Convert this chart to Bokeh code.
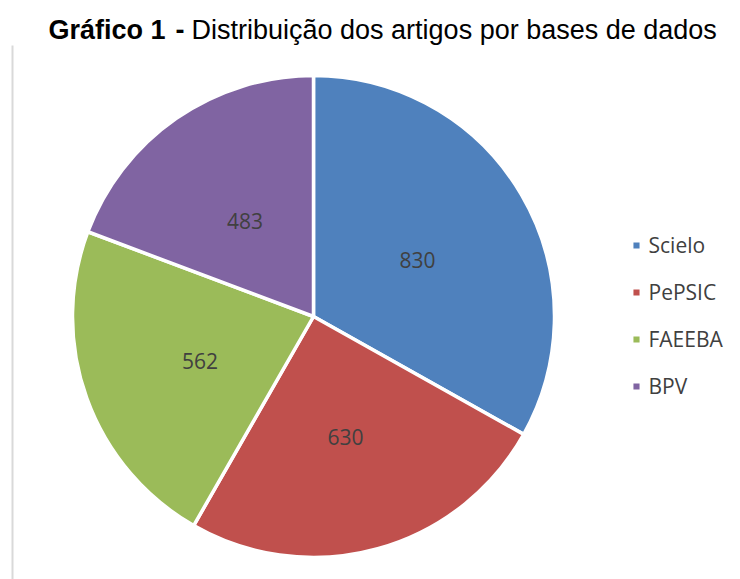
import numpy as np
from bokeh.plotting import figure
from bokeh.models import ColumnDataSource, Range1d
from bokeh.core.properties import value
from bokeh.embed import file_html
from bokeh.resources import INLINE

categories = ["Scielo", "PePSIC", "FAEEBA", "BPV"]
counts = [830, 630, 562, 483]
colors = ["#4F81BD", "#C0504D", "#9BBB59", "#8064A2"]
title_bold = "Gráfico 1"
title_dash = "-"
title_rest = "Distribuição dos artigos por bases de dados"

W, H = 740, 579
p = figure(width=W, height=H, output_backend="svg", toolbar_location=None,
           x_range=Range1d(0, W), y_range=Range1d(0, H), min_border=0,
           x_axis_type=None, y_axis_type=None)
p.outline_line_color = None
p.background_fill_color = "white"
p.border_fill_color = "white"

cx, cy, R = 313, 263, 241
vals = np.array(counts, dtype=float)
cum = np.concatenate([[0], np.cumsum(vals)])
total = cum[-1]
start = np.pi / 2 - 2 * np.pi * cum[1:] / total
end = np.pi / 2 - 2 * np.pi * cum[:-1] / total
mid = (start + end) / 2

src = ColumnDataSource(dict(
    name=categories, value=counts, color=colors,
    start=start, end=end,
    lx=cx + 0.5 * R * np.cos(mid), ly=cy + 0.5 * R * np.sin(mid),
    txt=[str(v) for v in counts],
))

p.wedge(x=cx, y=cy, radius=R, start_angle="start", end_angle="end",
        direction="anticlock", fill_color="color", line_color="white",
        line_width=3.5, source=src, legend_field="name")

p.text(x="lx", y="ly", text="txt", source=src, text_align="center",
       text_baseline="middle", text_font=value("Open Sans"), y_offset=4,
       text_font_size="21px", text_color="#404040")

# title
ty = 550
p.text(x=[48], y=[ty], text=[title_bold], text_font=value("Liberation Sans"),
       text_font_style="bold", text_font_size="27px", text_color="black",
       text_baseline="alphabetic", text_align="left")
p.text(x=[175], y=[ty], text=[title_dash], text_font=value("Liberation Sans"),
       text_font_style="bold", text_font_size="27px", text_color="black",
       text_baseline="alphabetic", text_align="left")
p.text(x=[191], y=[ty], text=[title_rest], text_font=value("Liberation Sans"),
       text_font_size="27px", text_color="black",
       text_baseline="alphabetic", text_align="left")

# left border line
p.segment(x0=[12], y0=[-5], x1=[12], y1=[534], line_color="#d9d9d9", line_width=2)

leg = p.legend[0]
leg.location = (629.5, 179.5)
leg.padding = 0
leg.margin = 0
leg.spacing = 19
leg.glyph_width = 12
leg.glyph_height = 12
leg.label_standoff = 7
leg.label_text_font = "Open Sans"
leg.label_text_font_size = "21px"
leg.label_text_color = "#404040"
leg.background_fill_alpha = 0
leg.border_line_alpha = 0

open("out.html", "w").write(file_html(p, INLINE))
